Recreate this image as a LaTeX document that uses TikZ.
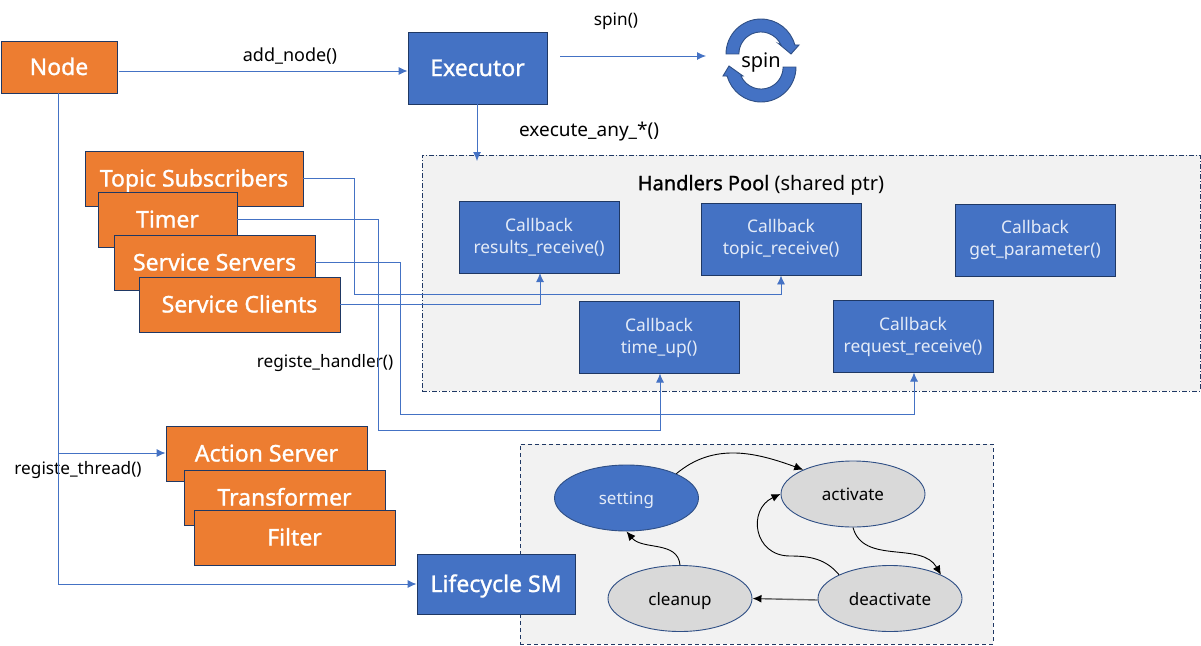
\documentclass[tikz,border=0pt]{standalone}
\usepackage{fontspec}
\setmainfont{Noto Sans}
\newfontfamily\heavyfont[FakeBold=1.2]{Noto Sans}
\usetikzlibrary{arrows.meta,shapes.geometric}
\definecolor{boxblue}{HTML}{4472C4}
\definecolor{boxorange}{HTML}{ED7D31}
\definecolor{edgeblue}{HTML}{2F4F85}
\definecolor{edgenavy}{HTML}{1F3864}
\definecolor{panelgray}{HTML}{F2F2F2}
\definecolor{stategray}{HTML}{D9D9D9}
\definecolor{lighttext}{HTML}{E4EBF7}
\newcommand{\fsize}[1]{\fontsize{#1}{22}\selectfont}
\begin{document}
\begin{tikzpicture}
	[x=1pt,y=-1pt,line width=0.9pt,>={Latex[length=9pt,width=8pt]},
	orangebox/.style = {
		draw=edgenavy,
		fill=boxorange,
		text=white,
		font=\fsize{23}\heavyfont,
		text height=20pt,
		text depth=4pt,
		inner sep=0pt,
		minimum height = 55pt,
		minimum width = 201pt
	},
	bluebox/.style = {
		draw=edgenavy,
		fill=boxblue,
		text=white,
		font=\fsize{23}\heavyfont,
		text height=20pt,
		text depth=4pt,
		inner sep=0pt
	},
	callback/.style = {
		draw=edgenavy,
		fill=boxblue,
		text=lighttext,
		font=\fsize{17.4},
		align=center,
		inner sep=0pt,
		minimum height = 72pt,
		minimum width = 160pt
	},
	state/.style = {
		draw=edgeblue,
		ellipse,
		fill=stategray,
		text=black,
		font=\fsize{17},
		text height=17pt,
		text depth=3.5pt,
		inner sep=0pt,
		minimum height = 66pt,
		minimum width = 144pt
	},
	panel/.style = {
		draw=edgenavy,
		fill=panelgray
	},
	label/.style = {
		font=\fsize{17.2},
		text=black,
		text height=17pt,
		text depth=3.5pt,
		inner sep=0pt
	},
	wire/.style = {
		draw=boxblue
	},
	curve/.style = {
		draw=black
	},
	spinarc/.style = {
		draw=edgeblue,
		fill=boxblue
	}]

	\useasboundingbox (0,0) rectangle (1201,645);

	%Draw panels
	\node[panel,dash pattern=on 5pt off 2pt on 1pt off 2pt,minimum width=778pt,minimum height=236pt] at (811,273) (pool) {};
	\node[panel,dash pattern=on 4pt off 3pt,minimum width=473pt,minimum height=200pt] at (756.5,544) (smpanel) {};

	%Draw nodes
	\node[bluebox,minimum width=116pt,minimum height=52pt,fill=boxorange] at (59,67) (nodebox) {Node};
	\node[bluebox,minimum width=139pt,minimum height=72pt] at (477.5,68) (executor) {Executor};
	\node[bluebox,minimum width=158pt,minimum height=60pt] at (496,584) (lifecycle) {Lifecycle SM};

	\node[orangebox,minimum width=218pt] at (194,178.5) (subs) {Topic Subscribers};
	\node[orangebox,minimum width=139pt] at (167.5,219.5) (timer) {Timer};
	\node[orangebox] at (214.5,262.5) (servers) {Service Servers};
	\node[orangebox] at (239.5,304.5) (clients) {Service Clients};

	\node[orangebox] at (266.5,453.5) (action) {Action Server};
	\node[orangebox] at (284.5,497.5) (transformer) {Transformer};
	\node[orangebox] at (294.5,537.5) (filter) {Filter};

	\node[font=\fsize{20},inner sep=0pt] at (761,185) (pooltitle) {{\heavyfont Handlers Pool} (shared ptr)};
	\node[callback] at (539,237) (results) {Callback\\results\_receive()};
	\node[callback] at (781,239) (topic) {Callback\\topic\_receive()};
	\node[callback] at (1035,240) (param) {Callback\\get\_parameter()};
	\node[callback] at (659,337.5) (timeup) {Callback\\time\_up()};
	\node[callback] at (913,336.5) (request) {Callback\\request\_receive()};

	\node[state,fill=boxblue,text=lighttext] at (626.5,498) (setting) {setting};
	\node[state] at (853,494) (activate) {activate};
	\node[state] at (680,598.5) (cleanup) {cleanup};
	\node[state] at (890,598.5) (deactivate) {deactivate};

	\node[label,font=\fsize{18}] at (290,55) (addlabel) {add\_node()};
	\node[label] at (616,19) (spinlabel) {spin()};
	\node[label,font=\fsize{19}] at (589,130) (execlabel) {execute\_any\_*()};
	\node[label] at (325,361) (handlerlabel) {registe\_handler()};
	\node[label] at (78,468) (threadlabel) {registe\_thread()};

	\coordinate (spinin) at (706,56);
	\coordinate (spinout) at (560,56);
	\coordinate (poolin) at (477,161);
	\coordinate (nodefork) at (58,453);
	\coordinate (nodedrop) at (58,584);

	%Draw spin icon
	\path[spinarc] (726,54) arc[start angle=180,end angle=15,radius=35pt]
		-- (799,45) -- (791,54) -- (779,44) -- (781,45)
		arc[start angle=24,end angle=180,radius=22pt] -- cycle;
	\path[spinarc] (796,67) arc[start angle=0,end angle=-165,radius=35pt]
		-- (723,76) -- (729,66) -- (743,76) -- (741,76)
		arc[start angle=-156,end angle=0,radius=22pt] -- cycle;
	\node[font=\fsize{20},text height=19pt,text depth=4pt,inner sep=0pt] at (761,60) (spintext) {spin};

	%Draw wires
	\draw[wire,->] ([xshift=2pt,yshift=-4pt]nodebox.east) -- ([yshift=-3pt]executor.west);
	\draw[wire,->] (spinout) -- (spinin);
	\draw[wire,->] (executor.south -| poolin) -- (poolin);

	\draw[wire] (nodebox.south -| nodefork) -- (nodefork);
	\draw[wire,->] (nodefork) -- (action.west |- nodefork);
	\draw[wire,->] (nodefork) -- (nodedrop) -- (lifecycle.west);

	\draw[wire,->] (subs.east) -- (354,178.5) -- (354,294) -- (781,294) -- (topic.south);
	\draw[wire,->] (timer.east) -- (378,219.5) -- (378,430) -- (660,430) -- (660,373.5);
	\draw[wire,->] (servers.east) -- (400,262.5) -- (400,414) -- (914,414) -- (914,372.5);
	\draw[wire,->] (clients.east) -- (540,304.5) -- (540,273);

	%Draw state transitions
	\draw[curve,->] (setting.26) to[out=40,in=160] (activate.154);
	\draw[curve,->] (activate.south) to[out=285,in=120] (deactivate.25);
	\draw[curve,->] (deactivate.155) to[out=130,in=0] (790,556) to[out=180,in=205,looseness=1.5] (activate.west);
	\draw[curve,->] (cleanup.north) to[out=95,in=-50] (setting.south);
	\draw[curve,draw=black!60,line width=1.4pt,-{Latex[length=9pt,width=8pt,black]}] ([yshift=-1.5pt]deactivate.west) -- (cleanup.east);

\end{tikzpicture}
\end{document}
